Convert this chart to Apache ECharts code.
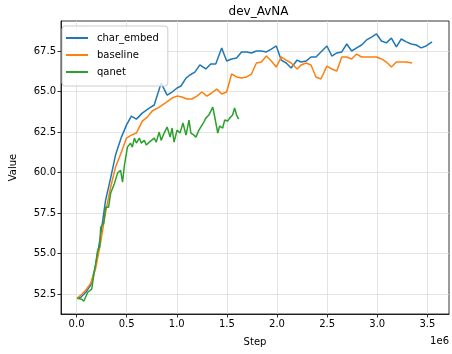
<!DOCTYPE html>
<html>
<head>
<meta charset="utf-8">
<script src="https://cdn.jsdelivr.net/npm/echarts@6/dist/echarts.min.js"></script>
<style>
html,body{margin:0;padding:0;background:#fff;}
#chart{width:452px;height:354px;}
</style>
</head>
<body>
<div id="chart"></div>
<script>
// ---- data ----
const title = "dev_AvNA";
const seriesNames = ["char_embed", "baseline", "qanet"];

const charEmbedSteps = [5000,43000,92000,142000,191000,241000,290000,340000,389000,448000,498000,547000,597000,656000,725000,775000,844000,904000,953000,1003000,1042000,1092000,1131000,1181000,1230000,1290000,1339000,1389000,1448000,1498000,1547000,1597000,1646000,1696000,1745000,1795000,1844000,1894000,1943000,1993000,2042000,2092000,2141000,2201000,2240000,2290000,2339000,2389000,2438000,2498000,2547000,2597000,2646000,2696000,2745000,2795000,2844000,2894000,2943000,2993000,3042000,3092000,3141000,3191000,3240000,3290000,3339000,3389000,3438000,3488000,3547000];
const charEmbedValues = [52.25,52.31,52.62,53.06,54.29,56.14,58.30,59.66,61.08,62.19,62.93,63.49,63.30,63.67,63.98,64.17,65.52,64.78,64.97,65.22,65.34,65.83,66.02,66.20,66.64,66.39,66.70,66.70,67.69,66.88,67.01,67.07,67.44,67.44,67.38,67.50,67.50,67.44,67.62,67.81,66.94,66.76,66.45,66.94,66.82,66.88,67.13,67.13,67.44,67.81,67.19,67.38,67.44,67.93,67.50,67.69,67.87,68.18,68.36,68.55,68.12,68.00,68.30,67.75,68.24,68.06,67.93,67.87,67.69,67.81,68.06];

const baselineSteps = [5000,43000,92000,142000,191000,241000,290000,340000,389000,448000,498000,547000,597000,656000,706000,755000,825000,884000,953000,1003000,1052000,1102000,1151000,1201000,1250000,1300000,1349000,1399000,1448000,1498000,1547000,1597000,1646000,1696000,1745000,1795000,1844000,1894000,1943000,1993000,2042000,2092000,2141000,2201000,2240000,2290000,2339000,2389000,2438000,2498000,2547000,2597000,2646000,2696000,2745000,2795000,2844000,2894000,2943000,2993000,3042000,3092000,3141000,3191000,3240000,3290000,3349000];
const baselineValues = [52.25,52.44,52.75,53.18,54.10,55.71,57.56,59.10,60.34,61.27,62.13,62.31,62.44,63.18,63.42,63.80,64.04,64.29,64.60,64.72,64.66,64.54,64.54,64.72,64.97,64.72,64.91,65.15,64.85,64.97,66.08,65.90,65.83,65.90,66.08,66.76,66.82,67.19,66.88,66.51,67.13,66.94,66.76,66.39,66.64,66.76,66.64,65.90,65.77,66.57,66.39,66.27,67.13,67.13,67.01,67.31,67.13,67.13,67.13,67.13,67.01,66.82,66.51,66.82,66.82,66.82,66.76];

const qanetSteps = [5000,23000,52000,72000,112000,151000,191000,211000,231000,241000,271000,290000,320000,340000,379000,409000,439000,459000,478000,508000,538000,557000,577000,597000,627000,646000,676000,696000,726000,745000,775000,795000,825000,844000,874000,904000,934000,953000,973000,1003000,1032000,1062000,1092000,1122000,1141000,1171000,1191000,1221000,1240000,1270000,1290000,1320000,1339000,1359000,1379000,1409000,1428000,1458000,1478000,1508000,1527000,1557000,1577000,1597000,1617000];
const qanetValues = [52.25,52.25,52.19,52.07,52.62,52.81,54.41,55.22,55.40,56.64,56.88,57.87,57.87,58.73,59.35,59.97,60.15,59.41,60.46,61.57,61.82,61.57,62.13,61.82,62.13,61.82,61.99,61.70,61.88,61.82,62.13,61.88,62.50,61.99,62.44,62.81,62.19,62.75,61.88,62.62,62.44,63.06,62.31,63.24,62.44,62.31,62.19,62.62,62.50,63.12,63.36,63.55,63.43,64.04,63.43,62.44,62.87,62.75,63.24,63.18,63.36,63.55,63.98,63.55,63.30];

const xTickValues = [0,500000,1000000,1500000,2000000,2500000,3000000,3500000];
const yTickValues = [52.5,55.0,57.5,60.0,62.5,65.0,67.5];
const xLabel = "Step";
const yLabel = "Value";
const xOffsetText = "1e6";
const colors = ["#1f77b4", "#ff7f0e", "#2ca02c"];

function pairs(xs, ys) { return xs.map((x, i) => [x, ys[i]]); }

const FONT = "DejaVu Sans";
const chart = echarts.init(document.getElementById('chart'), null, {renderer: 'canvas'});

const gridLeft = 58, gridRight = 3, gridTop = 21, gridBottom = 40;

chart.setOption({
  animation: false,
  backgroundColor: '#fff',
  textStyle: {fontFamily: FONT},
  title: {
    text: title,
    left: (gridLeft + (452 - gridRight)) / 2,
    textAlign: 'center',
    top: 1,
    textStyle: {fontFamily: FONT, fontSize: 12, fontWeight: 'normal', color: '#000'}
  },
  grid: {
    left: gridLeft, right: gridRight, top: gridTop, bottom: gridBottom,
    show: true, borderColor: '#000', borderWidth: 0.8, backgroundColor: 'transparent'
  },
  legend: {
    data: seriesNames,
    orient: 'vertical',
    left: 62, top: 26,
    itemWidth: 22, itemHeight: 2,
    itemGap: 5,
    icon: 'rect',
    padding: [6, 9, 8, 4],
    backgroundColor: 'rgba(255,255,255,0.8)',
    borderColor: '#cccccc', borderWidth: 1, borderRadius: 3,
    textStyle: {fontFamily: FONT, fontSize: 10, color: '#000', padding: [0, 0, 0, 4], lineHeight: 12}
  },
  xAxis: {
    type: 'value',
    min: -155000, max: 3716000,
    name: xLabel,
    nameLocation: 'middle',
    nameGap: 23,
    nameTextStyle: {fontFamily: FONT, fontSize: 10, color: '#000'},
    axisLine: {show: true, onZero: false, lineStyle: {color: '#000', width: 0.8}},
    axisTick: {show: true, customValues: xTickValues, length: 3.5, lineStyle: {color: '#000', width: 0.8}},
    axisLabel: {customValues: xTickValues, formatter: v => (v / 1e6).toFixed(1), fontFamily: FONT, fontSize: 10, color: '#000', margin: 5},
    splitLine: {show: true, lineStyle: {color: '#dcdcdc', width: 0.8}}
  },
  yAxis: {
    type: 'value',
    min: 51.28, max: 69.35,
    name: yLabel,
    nameLocation: 'middle',
    nameGap: 43,
    nameRotate: 90,
    nameTextStyle: {fontFamily: FONT, fontSize: 10, color: '#000'},
    axisLine: {show: true, onZero: false, lineStyle: {color: '#000', width: 0.8}},
    axisTick: {show: true, customValues: yTickValues, length: 3.5, lineStyle: {color: '#000', width: 0.8}},
    axisLabel: {customValues: yTickValues, formatter: v => v.toFixed(1), fontFamily: FONT, fontSize: 10, color: '#000', margin: 5},
    splitLine: {show: true, lineStyle: {color: '#dcdcdc', width: 0.8}}
  },
  graphic: [{
    type: 'text',
    right: 3, top: 336,
    style: {text: xOffsetText, fontFamily: FONT, fontSize: 10, fill: '#000'}
  }],
  series: [
    {name: seriesNames[0], type: 'line', data: pairs(charEmbedSteps, charEmbedValues), showSymbol: false, color: colors[0], lineStyle: {width: 1.5, color: colors[0]}},
    {name: seriesNames[1], type: 'line', data: pairs(baselineSteps, baselineValues), showSymbol: false, color: colors[1], lineStyle: {width: 1.5, color: colors[1]}},
    {name: seriesNames[2], type: 'line', data: pairs(qanetSteps, qanetValues), showSymbol: false, color: colors[2], lineStyle: {width: 1.5, color: colors[2]}}
  ]
});
</script>
</body>
</html>
